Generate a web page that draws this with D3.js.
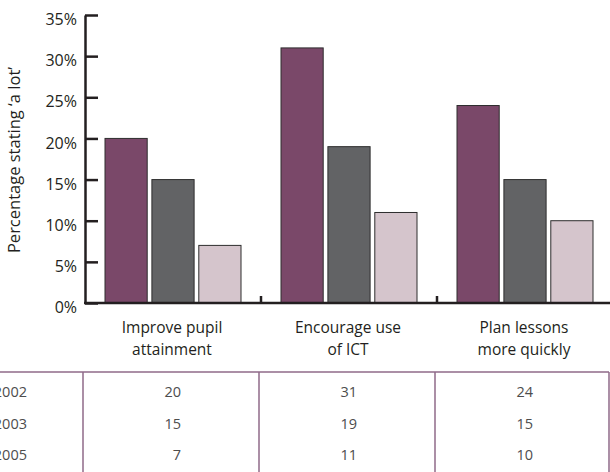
<!DOCTYPE html>
<html>
<head>
<meta charset="utf-8">
<script src="https://cdn.jsdelivr.net/npm/d3@7"></script>
<style>
  body { margin: 0; background: #fff; }
  svg { display: block; font-family: "Open Sans", "Noto Sans", sans-serif; }
</style>
</head>
<body>
<script>
let categories = ['Improve pupil attainment', 'Encourage use of ICT', 'Plan lessons more quickly'];
let categoryLines = [['Improve pupil', 'attainment'], ['Encourage use', 'of ICT'], ['Plan lessons', 'more quickly']];
let years = ['2002', '2003', '2005'];
let values2002 = [20, 31, 24];
let values2003 = [15, 19, 15];
let values2005 = [7, 11, 10];
let yTicks = [0, 5, 10, 15, 20, 25, 30, 35];

let series = [values2002, values2003, values2005];
let colors = ['#7a4869', '#626365', '#d5c5cc'];

let width = 610, height = 472;

let svg = d3.select('body').append('svg')
    .attr('width', width)
    .attr('height', height);

let x = d3.scaleBand().domain(categories).range([85, 613]); // one band per question
let xs = d3.scaleBand().domain(years).range([20, 156]).paddingInner(0.1); // bars inside a band
let y = d3.scaleLinear().domain([0, 35]).range([303, 15]);

// bars
let groups = svg.selectAll('.group')
    .data(categories)
  .enter().append('g')
    .attr('class', 'group')
    .attr('transform', function(d) { return 'translate(' + x(d) + ',0)'; });

groups.selectAll('rect')
    .data(function(d, i) { return years.map(function(yr, j) { return {year: yr, value: series[j][i], k: j}; }); })
  .enter().append('rect')
    .attr('x', function(d) { return xs(d.year); })
    .attr('y', function(d) { return y(d.value); })
    .attr('width', xs.bandwidth())
    .attr('height', function(d) { return y(0) - y(d.value); })
    .style('fill', function(d) { return colors[d.k]; })
    .style('stroke', '#2e2e2e')
    .style('stroke-width', 1);

// y axis
let yAxis = d3.axisLeft(y)
    .tickValues(yTicks)
    .tickSize(-13)
    .tickSizeOuter(0)
    .tickPadding(8)
    .tickFormat(function(d) { return d + '%'; });

let gy = svg.append('g')
    .attr('transform', 'translate(85,0)')
    .call(yAxis)
    .attr('font-size', null)
    .attr('font-family', null);
gy.select('.domain').style('stroke', '#231f20').style('stroke-width', 2.5);
gy.selectAll('.tick line').style('stroke', '#231f20').style('stroke-width', 2.5);
gy.selectAll('.tick text')
    .attr('dy', '0.6em')
    .style('font-size', '16px')
    .style('fill', '#231f20');

// x axis baseline and separators
svg.append('line')
    .attr('x1', 84).attr('x2', 610)
    .attr('y1', y(0)).attr('y2', y(0))
    .style('stroke', '#231f20').style('stroke-width', 2.5);

svg.selectAll('.sep')
    .data(categories.slice(1))
  .enter().append('line')
    .attr('class', 'sep')
    .attr('x1', function(d) { return x(d); })
    .attr('x2', function(d) { return x(d); })
    .attr('y1', y(0) - 7)
    .attr('y2', y(0))
    .style('stroke', '#231f20').style('stroke-width', 2.5);

// category labels
let labels = svg.selectAll('.cat')
    .data(categories)
  .enter().append('text')
    .attr('class', 'cat')
    .attr('text-anchor', 'middle')
    .style('font-size', '15.5px')
    .style('fill', '#231f20');

labels.selectAll('tspan')
    .data(function(d, i) { return categoryLines[i]; })
  .enter().append('tspan')
    .attr('x', function() { let c = d3.select(this.parentNode).datum(); return x(c) + x.bandwidth() / 2 - 1; })
    .attr('y', function(d, i) { return 333 + i * 21.5; })
    .text(function(d) { return d; });

// y axis title
svg.append('text')
    .attr('transform', 'translate(20,160) rotate(-90)')
    .attr('text-anchor', 'middle')
    .style('font-size', '16.5px')
    .style('fill', '#231f20')
    .text('Percentage stating \u2018a lot\u2019');

// data table
let tableTop = 372;
let lineColor = '#8f6a89';

svg.append('line')
    .attr('x1', 0).attr('x2', 609)
    .attr('y1', tableTop).attr('y2', tableTop)
    .style('stroke', lineColor).style('stroke-width', 1.5);

let cols = categories.map(function(c) { return x(c) - 2; }).concat([609]);
svg.selectAll('.vline')
    .data(cols)
  .enter().append('line')
    .attr('class', 'vline')
    .attr('x1', function(d) { return d; })
    .attr('x2', function(d) { return d; })
    .attr('y1', tableTop)
    .attr('y2', height)
    .style('stroke', lineColor).style('stroke-width', 1.5);

let rowY = d3.scalePoint().domain(years).range([392, 455]);

svg.selectAll('.rowlabel')
    .data(years)
  .enter().append('text')
    .attr('class', 'rowlabel')
    .attr('x', 27)
    .attr('y', function(d) { return rowY(d); })
    .attr('dy', '0.35em')
    .attr('text-anchor', 'end')
    .style('font-size', '14.5px')
    .style('fill', '#4d4d4d')
    .text(function(d) { return d; });

years.forEach(function(yr, j) {
  svg.selectAll('.val' + yr)
      .data(categories)
    .enter().append('text')
      .attr('x', function(d) { return x(d) + x.bandwidth() / 2 + 8; })
      .attr('y', rowY(yr))
      .attr('dy', '0.35em')
      .attr('text-anchor', 'end')
      .style('font-size', '14.5px')
      .style('fill', '#4d4d4d')
      .text(function(d, i) { return series[j][i]; });
});
</script>
</body>
</html>
